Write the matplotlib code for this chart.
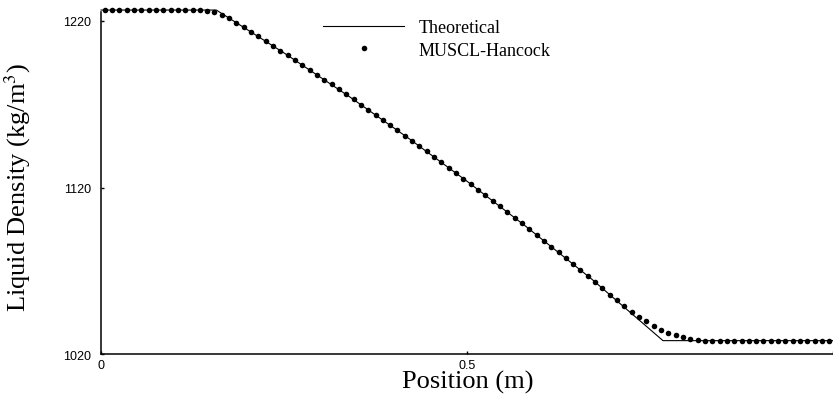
import matplotlib
matplotlib.use('Agg')
import matplotlib.pyplot as plt

# --- data ---
# theoretical (exact) solution, piecewise points
theory_x = [0.0, 0.1575, 0.25, 0.34, 0.42, 0.50, 0.58, 0.67, 0.7677, 1.0]
theory_rho = [1226.4, 1226.4, 1200.7, 1174.3, 1149.6, 1123.8, 1096.9, 1065.3, 1028.3, 1028.3]

# MUSCL-Hancock cell centres (100 cells)
cell_x = [0.005 + 0.01 * i for i in range(100)]
cell_rho = [
    1226.4, 1226.4, 1226.4, 1226.4, 1226.4, 1226.4, 1226.4, 1226.4, 1226.4, 1226.4,
    1226.4, 1226.4, 1226.4, 1226.4, 1226.0, 1225.0, 1223.6, 1221.4, 1218.9, 1216.2,
    1213.4, 1210.6, 1207.8, 1205.0, 1202.1, 1199.3, 1196.4, 1193.5, 1190.6, 1187.7,
    1184.7, 1181.8, 1178.8, 1175.8, 1172.8, 1169.7, 1166.7, 1163.6, 1160.5, 1157.4,
    1154.3, 1151.2, 1148.0, 1144.9, 1141.7, 1138.5, 1135.2, 1132.0, 1128.7, 1125.4,
    1122.2, 1118.8, 1115.5, 1112.2, 1108.8, 1105.4, 1102.0, 1098.6, 1095.2, 1091.7,
    1088.2, 1084.7, 1081.2, 1077.7, 1074.2, 1070.6, 1067.0, 1063.5, 1059.8, 1055.8,
    1052.4, 1048.9, 1045.6, 1042.6, 1040.0, 1037.2, 1034.8, 1033.0, 1031.4, 1030.2,
    1029.1, 1028.5, 1028.3, 1028.3, 1028.3, 1028.3, 1028.3, 1028.3, 1028.3, 1028.3,
    1028.3, 1028.3, 1028.3, 1028.3, 1028.3, 1028.3, 1028.3, 1028.3, 1028.3, 1028.3,
]

x_ticks = [0, 0.5, 1.0]
x_ticklabels = ['0', '0.5', '']   # the "1" falls off the right edge in the original
y_ticks = [1020, 1120, 1220]

plt.rcParams['mathtext.fontset'] = 'stix'
serif = 'Liberation Serif'
sans = 'Liberation Sans'

fig = plt.figure(figsize=(8.33, 4.02), dpi=100)
ax = fig.add_axes([0.1213, 0.1157, 0.8787, 0.851])

ax.plot(theory_x, theory_rho, color='black', lw=0.8, label='Theoretical', clip_on=False)
ax.plot(cell_x, cell_rho, 'o', color='black', ms=4, mew=0, label='MUSCL-Hancock', clip_on=False)

ax.set_xlim(0, 0.9963)
ax.set_ylim(1020, 1225)

for side in ['top', 'right']:
    ax.spines[side].set_visible(False)
for side in ['left', 'bottom']:
    ax.spines[side].set_linewidth(1.1)

ax.set_xticks(x_ticks)
ax.set_xticklabels(x_ticklabels)
ax.set_yticks(y_ticks)
ax.tick_params(direction='in', length=2.5, width=1, labelsize=9)
ax.tick_params(axis='y', pad=7)
ax.tick_params(axis='x', pad=3)
for lab in ax.get_xticklabels() + ax.get_yticklabels():
    lab.set_fontfamily(sans)

ax.set_xlabel('Position (m)', fontsize=19, fontfamily=serif)
ax.set_ylabel(r'Liquid Density (kg/m$^3$)', fontsize=19, fontfamily=serif)
ax.xaxis.set_label_coords(0.501, -0.045)
ax.yaxis.set_label_coords(-0.093, 0.49)

ax.legend(loc='upper left', bbox_to_anchor=(0.3878, 0.950), bbox_transform=fig.transFigure,
          frameon=False, borderpad=0, borderaxespad=0, handlelength=4.5,
          handletextpad=0.8, labelspacing=0.3, numpoints=1,
          prop={'family': serif, 'size': 13})

fig.savefig('out.png', dpi=100)
